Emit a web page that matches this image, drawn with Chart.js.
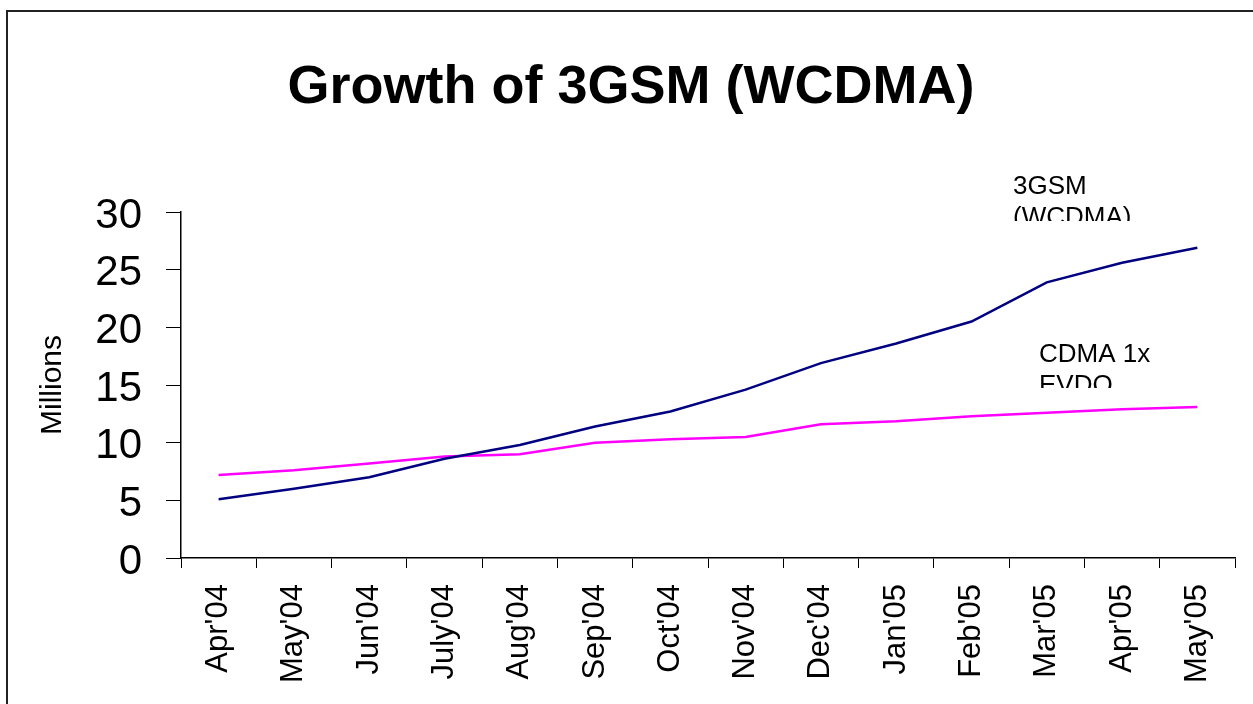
<!DOCTYPE html>
<html>
<head>
<meta charset="utf-8">
<script src="https://cdn.jsdelivr.net/npm/chart.js@4/dist/chart.umd.min.js"></script>
<style>
  html, body { margin: 0; padding: 0; background: #fff; }
  #wrap { position: relative; width: 1253px; height: 704px; }
</style>
</head>
<body>
<div id="wrap"><canvas id="chartGrowth"></canvas></div>
<script>
'use strict';

const MONTHS = ["Apr'04", "May'04", "Jun'04", "July'04", "Aug'04", "Sep'04", "Oct'04",
    "Nov'04", "Dec'04", "Jan'05", "Feb'05", "Mar'05", "Apr'05", "May'05"];
const WCDMA = [5.1, 6.0, 7.0, 8.6, 9.8, 11.4, 12.7, 14.6, 16.9, 18.6, 20.5, 23.9, 25.6, 26.9];
const EVDO = [7.2, 7.6, 8.2, 8.8, 9.0, 10.0, 10.3, 10.5, 11.6, 11.85, 12.3, 12.6, 12.9, 13.1];
const Y_TICKS = [0, 5, 10, 15, 20, 25, 30];

const TITLE = 'Growth of 3GSM (WCDMA)';
const AXIS_TITLE = 'Millions';
const FONT = '"Liberation Sans", Arial, sans-serif';

// frame, big title and the two clipped series captions
const decorations = {
    id: 'decorations',
    beforeDraw(chart) {
        const ctx = chart.ctx;
        ctx.save();
        ctx.fillStyle = '#fff';
        ctx.fillRect(0, 0, chart.width, chart.height);
        ctx.strokeStyle = '#222';
        ctx.lineWidth = 2;
        ctx.strokeRect(7, 11, chart.width + 20, chart.height + 20);
        ctx.restore();
    },
    afterDraw(chart) {
        const ctx = chart.ctx;
        ctx.save();
        ctx.fillStyle = '#000';
        ctx.font = 'bold 54px ' + FONT;
        ctx.textAlign = 'center';
        ctx.textBaseline = 'alphabetic';
        ctx.fillText(TITLE, 631, 103);

        ctx.font = '26px ' + FONT;
        ctx.textAlign = 'left';
        captionBox(ctx, ['3GSM', '(WCDMA)'], 1013, 194, 221);
        captionBox(ctx, ['CDMA 1x', 'EVDO'], 1039, 362, 388);
        ctx.restore();
    }
};

function captionBox(ctx, lines, x, baseline, clipBottom) {
    ctx.save();
    ctx.beginPath();
    ctx.rect(x - 5, baseline - 40, 200, clipBottom - baseline + 40);
    ctx.clip();
    lines.forEach(function (line, i) {
        ctx.fillText(line, x, baseline + i * 31);
    });
    ctx.restore();
}

const data = {
    labels: MONTHS,
    datasets: [
        {
            label: '3GSM (WCDMA)',
            data: WCDMA,
            borderColor: '#000080',
            backgroundColor: '#000080',
            borderWidth: 2.5,
            pointRadius: 0,
            tension: 0
        },
        {
            label: 'CDMA 1x EVDO',
            data: EVDO,
            borderColor: '#ff00ff',
            backgroundColor: '#ff00ff',
            borderWidth: 2.5,
            pointRadius: 0,
            tension: 0
        }
    ]
};

const config = {
    type: 'line',
    data,
    options: {
        responsive: false,
        animation: false,
        layout: { padding: { top: 212, right: 18, bottom: 0, left: 0 } },
        plugins: {
            legend: { display: false },
            title: { display: false },
            tooltip: { enabled: false }
        },
        scales: {
            x: {
                offset: true,
                grid: {
                    offset: true,
                    drawOnChartArea: false,
                    drawTicks: true,
                    tickLength: 10,
                    color: '#000'
                },
                border: { display: true, color: '#000', width: 1.5 },
                ticks: {
                    color: '#000',
                    font: { family: FONT, size: 31 },
                    minRotation: 90,
                    maxRotation: 90,
                    autoSkip: false,
                    padding: 16
                },
                afterFit(scale) { scale.height = 146; }
            },
            y: {
                min: 0,
                max: 30,
                afterBuildTicks(scale) {
                    scale.ticks = Y_TICKS.map(v => ({ value: v }));
                },
                grid: {
                    drawOnChartArea: false,
                    drawTicks: true,
                    tickLength: 15,
                    color: '#000'
                },
                border: { display: true, color: '#000', width: 1.5 },
                ticks: {
                    color: '#000',
                    font: { family: FONT, size: 42 },
                    padding: 24,
                    labelOffset: 4
                },
                title: {
                    display: true,
                    text: AXIS_TITLE,
                    color: '#000',
                    font: { family: FONT, size: 30 },
                    padding: { top: 35, bottom: 0 }
                },
                afterFit(scale) { scale.width = 181; }
            }
        }
    },
    plugins: [decorations]
};

const canvas = document.getElementById('chartGrowth');
canvas.width = 1253;
canvas.height = 704;
canvas.style.width = '1253px';
canvas.style.height = '704px';
const chartGrowth = new Chart(canvas, config);
</script>
</body>
</html>
